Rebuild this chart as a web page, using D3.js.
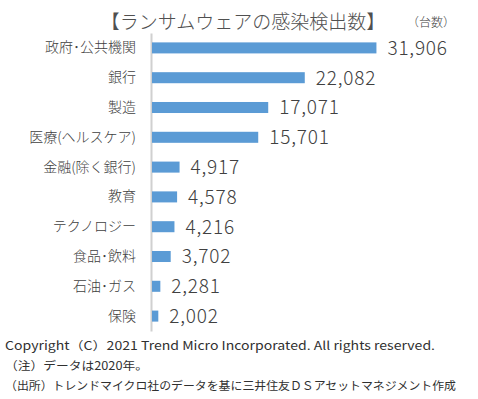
<!DOCTYPE html>
<html>
<head>
<meta charset="utf-8">
<script src="https://cdn.jsdelivr.net/npm/d3@7"></script>
<style>
  body { margin: 0; background: #fff; }
  svg { font-family: 'Noto Sans CJK JP', 'Noto Sans', sans-serif; }
</style>
</head>
<body>
<svg width="478" height="399"></svg>
<script>
const categories = [
  '政府･公共機関', '銀行', '製造', '医療(ヘルスケア)', '金融(除く銀行)',
  '教育', 'テクノロジー', '食品･飲料', '石油･ガス', '保険'
];
const values = [31906, 22082, 17071, 15701, 4917, 4578, 4216, 3702, 2281, 2002];

const title = '【ランサムウェアの感染検出数】';
const unitLabel = '（台数）';
const notes = [
  'Copyright（C）2021 Trend Micro Incorporated. All rights reserved.',
  '（注）データは2020年。',
  '（出所）トレンドマイクロ社のデータを基に三井住友ＤＳアセットマネジメント作成'
];

const svg = d3.select('svg');
const data = categories.map((c, i) => ({ category: c, value: values[i] }));

const xScale = d3.scaleLinear()
  .domain([1000, 35000])
  .range([151, 399]);

const yScale = d3.scaleBand()
  .domain(categories)
  .range([33, 331])
  .paddingInner(0.63)
  .paddingOuter(0.315);

const textColor = '#404040';

// category axis
const yAxis = d3.axisLeft(yScale)
  .tickSize(0)
  .tickPadding(15);

const yAxisG = svg.append('g')
  .attr('transform', `translate(${xScale.range()[0]},0)`)
  .call(yAxis);
yAxisG.select('.domain')
  .attr('stroke', '#d0d0d0')
  .attr('stroke-width', 2);
yAxisG.selectAll('text')
  .attr('font-size', 14)
  .attr('font-weight', 300)
  .attr('fill', textColor)
  .attr('font-family', "'Noto Sans CJK JP', sans-serif");

// bars
svg.append('g').selectAll('rect')
  .data(data)
  .enter().append('rect')
  .attr('x', xScale.range()[0] + 1)
  .attr('y', d => yScale(d.category))
  .attr('width', d => xScale(d.value) - xScale.range()[0] - 1)
  .attr('height', yScale.bandwidth())
  .attr('fill', '#5b9bd5');

// value labels
svg.append('g').selectAll('text')
  .data(data)
  .enter().append('text')
  .attr('x', d => xScale(d.value) + 11)
  .attr('y', d => yScale(d.category) + yScale.bandwidth() / 2)
  .attr('dy', '0.36em')
  .attr('font-size', 19)
  .attr('font-weight', 300)
  .attr('letter-spacing', 0.8)
  .attr('fill', textColor)
  .text(d => d3.format(',')(d.value));

// title
svg.append('text')
  .attr('x', 243)
  .attr('y', 29)
  .attr('text-anchor', 'middle')
  .attr('font-size', 19)
  .attr('font-weight', 300)
  .attr('fill', '#505050')
  .text(title);

svg.append('text')
  .attr('x', 407)
  .attr('y', 27)
  .attr('font-size', 12)
  .attr('font-weight', 300)
  .attr('fill', textColor)
  .text(unitLabel);

// notes
const noteWidths = [430, 143, 451];
svg.append('g').selectAll('text')
  .data(notes)
  .enter().append('text')
  .attr('x', 5)
  .attr('y', (d, i) => 350 + i * 20)
  .attr('font-size', 11.8)
  .attr('fill', '#303030')
  .attr('textLength', (d, i) => noteWidths[i])
  .attr('lengthAdjust', 'spacingAndGlyphs')
  .text(d => d);
</script>
</body>
</html>
